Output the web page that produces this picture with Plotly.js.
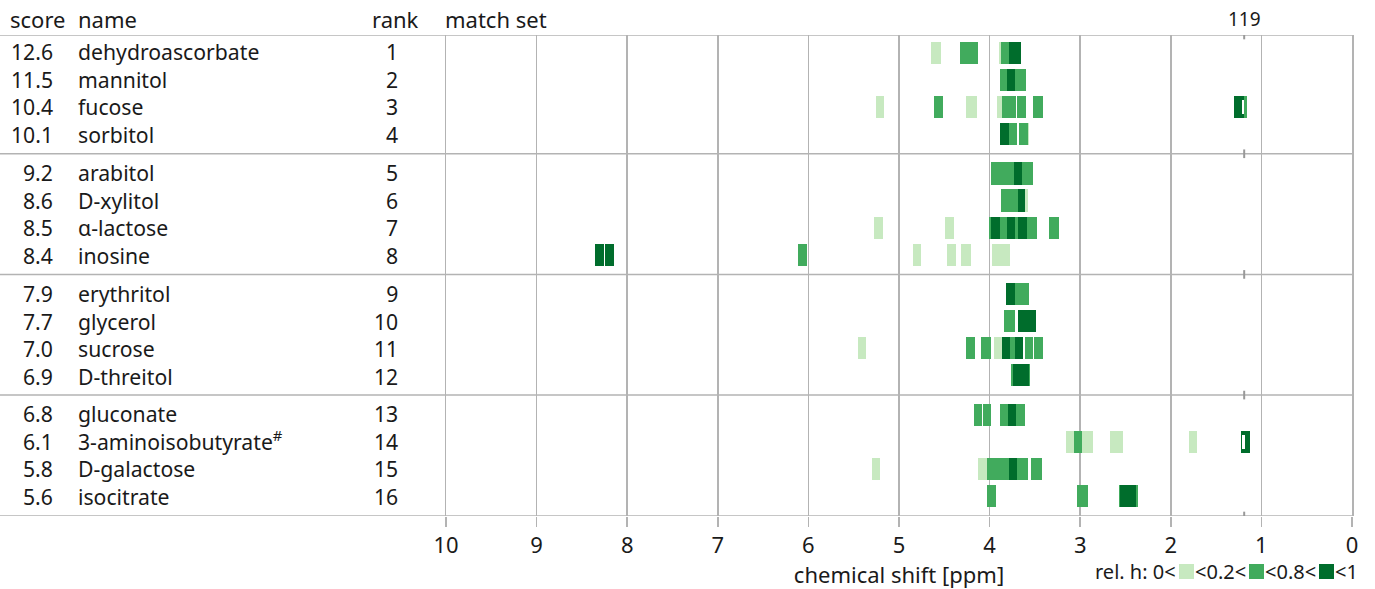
<!DOCTYPE html>
<html>
<head>
<meta charset="utf-8">
<script src="https://cdn.plot.ly/plotly-3.0.1.min.js"></script>
<style>html,body{margin:0;padding:0;background:#fff;}#chart{width:1375px;height:589px;}</style>
</head>
<body>
<div id="chart"></div>
<script>
// ---- data ----
const names = ["dehydroascorbate","mannitol","fucose","sorbitol","arabitol","D-xylitol","α-lactose","inosine",
  "erythritol","glycerol","sucrose","D-threitol","gluconate","3-aminoisobutyrate<sup>#</sup>","D-galactose","isocitrate"];
const scores = ["12.6","11.5","10.4","10.1","9.2","8.6","8.5","8.4","7.9","7.7","7.0","6.9","6.8","6.1","5.8","5.6"];
const ranks = [1,2,3,4,5,6,7,8,9,10,11,12,13,14,15,16];

// peaks: rank, from ppm, to ppm, level (0: <0.2, 1: <0.8, 2: <1)
const peakRank = [
  1,1,1,1,1,1,1,
  2,2,2,2,
  3,3,3,3,3,3,3,3,3,3,
  4,4,4,4,
  5,5,5,5,5,5,
  6,6,6,6,
  7,7,7,7,7,7,7,7,7,7,
  8,8,8,8,8,8,8,8,
  9,9,9,
  10,10,10,
  11,11,11,11,11,11,11,11,11,
  12,12,12,12,
  13,13,13,13,13,
  14,14,14,14,14,14,14,14,
  15,15,15,15,15,15,15,15,15,15,
  16,16,16,16,16,16];
const peakFrom = [
  4.65,4.33,4.23,3.90,3.87,3.79,3.75,
  3.89,3.81,3.72,3.70,
  5.25,4.61,4.26,3.92,3.86,3.81,3.70,3.52,1.30,1.19,
  3.88,3.80,3.68,3.66,
  3.98,3.90,3.82,3.73,3.64,3.62,
  3.87,3.79,3.69,3.68,
  5.28,4.49,4.01,3.98,3.90,3.81,3.74,3.69,3.59,3.34,
  8.36,8.24,6.11,4.85,4.47,4.32,3.97,3.87,
  3.82,3.72,3.67,
  3.84,3.69,3.61,
  5.45,4.26,4.09,3.95,3.86,3.80,3.72,3.61,3.51,
  3.76,3.74,3.67,3.65,
  4.17,4.07,3.88,3.80,3.71,
  3.16,3.07,2.99,2.96,2.67,2.63,1.80,1.23,
  5.30,4.13,4.03,3.97,3.88,3.79,3.70,3.68,3.54,3.52,
  4.03,3.03,2.57,2.56,2.48,2.46];
const peakTo = [
  4.54,4.23,4.13,3.80,3.77,3.69,3.65,
  3.79,3.72,3.62,3.60,
  5.17,4.51,4.14,3.82,3.76,3.71,3.60,3.41,1.19,1.16,
  3.79,3.70,3.58,3.56,
  3.88,3.80,3.72,3.64,3.54,3.52,
  3.77,3.69,3.61,3.58,
  5.18,4.39,3.91,3.89,3.80,3.72,3.64,3.59,3.48,3.23,
  8.26,8.15,6.01,4.76,4.37,4.21,3.87,3.77,
  3.72,3.62,3.57,
  3.72,3.59,3.49,
  5.36,4.16,3.99,3.85,3.78,3.70,3.63,3.52,3.41,
  3.66,3.64,3.57,3.55,
  4.08,3.98,3.78,3.71,3.61,
  3.06,2.98,2.89,2.86,2.57,2.53,1.71,1.13,
  5.21,4.03,3.93,3.87,3.78,3.70,3.60,3.58,3.44,3.42,
  3.93,2.91,2.47,2.46,2.38,2.36];
const peakLevel = [
  0,1,1,0,1,2,2,
  1,2,1,1,
  0,1,0,0,1,1,1,1,2,1,
  2,1,1,0,
  1,1,1,2,1,1,
  1,1,2,0,
  0,0,1,2,1,2,1,2,1,1,
  2,2,1,0,0,0,0,0,
  2,1,1,
  1,2,2,
  0,1,1,0,2,1,2,1,1,
  1,2,2,1,
  1,1,1,2,1,
  0,1,0,0,0,0,0,2,
  0,0,1,1,1,2,1,1,1,1,
  1,1,1,2,2,1];

// reference marker (ppm) and white marks inside bars
const markerPpm = 1.19;
const markerLabel = "119";
const markRank = [3, 14];
const markFrom = [1.214, 1.211];
const markTo = [1.189, 1.185];

const levelColors = ["#c7e9c0", "#41ab5d", "#006d2c"];
const legendTexts = ["rel. h: 0<", "<0.2<", "<0.8<", "<1"];

// ---- layout helpers ----
const W = 1375, H = 589, ML = 446, MR = 23, MT = 35, MB = 73;
const PW = W - ML - MR, PH = H - MT - MB;
const px2x = p => (p - ML) / PW;
const py2y = p => (H - MB - p) / PH;
const GAP = 0.46;
const GROUP = 4;
const pos = r => (r - 1) + GAP * Math.floor((r - 1) / GROUP);
const yTop = -0.66, yBot = pos(16) + 0.74;
const FONT = "Noto Sans, Open Sans, sans-serif";
const TXT = "#1a1a1a";
const GRID = "#b3b3b3";

const traces = [0, 1, 2].map(lv => {
  const idx = peakRank.map((r, i) => i).filter(i => peakLevel[i] === lv);
  return {
    type: "bar", orientation: "h",
    y: idx.map(i => pos(peakRank[i])),
    base: idx.map(i => peakFrom[i]),
    x: idx.map(i => peakTo[i] - peakFrom[i]),
    width: 0.82,
    marker: {color: levelColors[lv], line: {width: 0}},
    hoverinfo: "skip", showlegend: false
  };
});
traces.push({
  type: "bar", orientation: "h",
  y: markRank.map(pos), base: markFrom,
  x: markTo.map((t, i) => t - markFrom[i]),
  width: 0.5, marker: {color: "#ffffff", line: {width: 0}},
  hoverinfo: "skip", showlegend: false
});

const annotations = [];
const A = (text, x, y, xanchor, size, yref) => annotations.push({
  text, x, y, xref: "paper", yref: yref || "y", xanchor, yanchor: "middle", align: xanchor,
  showarrow: false, borderpad: 0,
  font: {family: FONT, size: size || 21, color: TXT}
});
// header
const hy = py2y(19);
A("score", px2x(9), hy, "left", 22, "paper");
A("name", px2x(77), hy, "left", 22, "paper");
A("rank", px2x(420), hy, "right", 22, "paper");
A("match set", px2x(444), hy, "left", 22, "paper");
annotations.push({text: markerLabel, x: markerPpm, xref: "x", y: py2y(19), yref: "paper",
  xanchor: "center", yanchor: "middle", showarrow: false, borderpad: 0,
  font: {family: FONT, size: 19, color: TXT}});
// row labels: one block of lines per group
for (let g = 0; g < ranks.length / GROUP; g++) {
  const idx = [0, 1, 2, 3].map(k => g * GROUP + k);
  const yc = (pos(ranks[idx[0]]) + pos(ranks[idx[3]])) / 2;
  A(idx.map(i => scores[i]).join("<br>"), px2x(54), yc, "right", 21.2);
  A(idx.map(i => names[i]).join("<br>"), px2x(77), yc, "left", 21.2);
  A(idx.map(i => String(ranks[i])).join("<br>"), px2x(399), yc, "right", 21.2);
}
// legend texts
const ly = py2y(571);
const legendX = [1094, 1194, 1264, 1334];
legendTexts.forEach((t, i) => A(t, px2x(legendX[i]), ly, "left", 20, "paper"));

const shapes = [];
// horizontal separators full width
const sepAfter = r => pos(r) + 0.5 + GAP / 2;
const seps = [yTop, sepAfter(4), sepAfter(8), sepAfter(12), yBot];
seps.forEach(s => {
  shapes.push({type: "line", xref: "paper", yref: "y", x0: px2x(0), x1: 1, y0: s, y1: s,
    line: {color: GRID, width: 1.5}, layer: "above"});
  shapes.push({type: "line", xref: "x", yref: "y", x0: markerPpm, x1: markerPpm, y0: s - 0.16, y1: s + 0.16,
    line: {color: "#999", width: 2}, layer: "above"});
});
// legend swatches
const swX = [1179, 1249, 1319];
swX.forEach((x, i) => shapes.push({type: "rect", xref: "paper", yref: "paper",
  x0: px2x(x), x1: px2x(x + 15), y0: py2y(579), y1: py2y(564),
  fillcolor: levelColors[i], line: {width: 0}}));

const layout = {
  width: W, height: H,
  margin: {l: ML, r: MR, t: MT, b: MB, pad: 0},
  paper_bgcolor: "#fff", plot_bgcolor: "#fff",
  barmode: "overlay", bargap: 0,
  font: {family: FONT, color: TXT},
  xaxis: {
    range: [10, 0], dtick: 1, tick0: 0, showgrid: true, gridcolor: GRID, gridwidth: 1.5,
    zeroline: false, showline: false, ticks: "outside", ticklen: 10, tickwidth: 1.5, tickcolor: GRID,
    tickfont: {family: FONT, size: 22, color: TXT},
    title: {text: "chemical shift [ppm]", font: {family: FONT, size: 22, color: TXT}, standoff: 0}
  },
  yaxis: {
    range: [yBot, yTop], showgrid: false, zeroline: false, showticklabels: false, ticks: "",
    showline: true, mirror: true, linecolor: GRID, linewidth: 1.5
  },
  annotations, shapes
};
Plotly.newPlot("chart", traces, layout, {displayModeBar: false, staticPlot: true});
</script>
</body>
</html>
